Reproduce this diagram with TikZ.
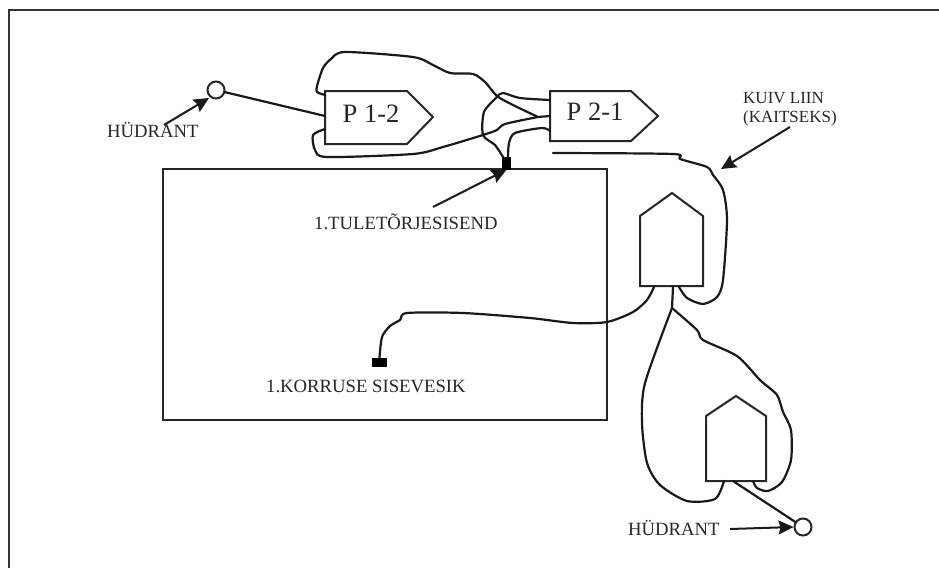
\documentclass[tikz,border=0pt]{standalone}
\usepackage{fontspec}
\setmainfont{Liberation Serif}
\usetikzlibrary{arrows.meta}
\tikzset{
  frameline/.style={line width=2pt,draw=black!80},
  shapeline/.style={line width=2pt,draw=black!85,line join=miter},
  hose/.style={line width=2.2pt,draw=black!90,line cap=round,line join=round},
  hoseplot/.style={hose,smooth,tension=0.45},
  pointer/.style={line width=2pt,draw=black!90,-{Stealth[length=15pt,width=14pt,inset=2pt]}},
  hydrant/.style={circle,draw=black!85,line width=2pt,fill=white,inner sep=0pt,minimum size=17pt},
  coupling/.style={fill=black,draw=none,inner sep=0pt},
  lab/.style={anchor=base west,inner sep=0pt,font=\fontsize{18.7}{18.7}\selectfont,text=black!85},
  pumplab/.style={inner sep=0pt,font=\fontsize{26.5}{26.5}\selectfont,text=black!85}
}
\begin{document}
\begin{tikzpicture}[x=1pt,y=-1pt]
\useasboundingbox (0,0) rectangle (939,568);
\fill[white] (0,0) rectangle (939,568);
% frame: top and left only
\coordinate (fb) at (8.5,568); \coordinate (fc) at (8.5,9.5); \coordinate (fr) at (939,9.5);
\draw[frameline] (fb) -- (fc) -- (fr);
% building
\node[draw=black!85,line width=2pt,inner sep=0pt,minimum width=444pt,minimum height=251pt,anchor=north west] (bld) at (162,168) {};
% pumps
\draw[shapeline] (325,91) coordinate (p1a) -- (407,91) -- (433,117) -- (407,144) -- (325,144) coordinate (p1b) -- cycle;
\node[pumplab] (p12) at (371,114) {P 1-2};
\draw[shapeline] (550,91) coordinate (p2a) -- (631,91) -- (658,116) -- (631,141) -- (550,141) coordinate (p2b) -- cycle;
\node[pumplab] (p21) at (595,112) {P 2-1};
% trucks
\draw[shapeline] (640,286) coordinate (t1a) -- (640,216) -- (672,193) -- (703,216) -- (703,286) coordinate (t1b) -- cycle;
\draw[shapeline] (706,481) coordinate (t2a) -- (706,416) -- (736,396) -- (766,416) -- (766,481) coordinate (t2b) -- cycle;
% hydrants
\node[hydrant] (hy1) at (216,90) {};
\node[hydrant] (hy2) at (803,527) {};
% couplings
\node[coupling,minimum width=9pt,minimum height=13pt] (c1) at (506.5,163) {};
\node[coupling,minimum width=15pt,minimum height=9pt] (c2) at (379.5,362.5) {};
% named hose ends
\coordinate (p1l1) at (325,116);
\coordinate (p1u) at (325,95);
\coordinate (p1d) at (325,129);
\coordinate (p2u) at (550,100);
\coordinate (p2m) at (550,116);
\coordinate (p2d) at (550,131);
\coordinate (j1) at (538,117);
\coordinate (dry) at (553,153);
\coordinate (t1l) at (654,287);
\coordinate (t1m) at (673,287);
\coordinate (t1r) at (679,287);
\coordinate (t2l) at (724,481);
\coordinate (t2m) at (733,481);
\coordinate (t2r) at (753,481);
\coordinate (trk) at (672,308);
% straight suction lines
\draw[hose] (hy1) -- (p1l1);
\draw[hose] (t2m) -- (hy2);
\draw[hose] (j1) -- (p2m);
\draw[hose] (t1m) -- (trk);
% hoses
\draw[hoseplot] plot coordinates {(p1u) (317,92) (317,86) (323,68) (331,59) (345,52) (413,57) (433,65) (450,73) (473,74) (485,82) (497,96) (513,105) (j1)};
\draw[hoseplot] plot coordinates {(p2u) (520,98) (503,93) (497,97) (484,112) (483,135) (495,145) (503,157)};
\draw[hoseplot] plot coordinates {(j1) (505,124) (497,130) (483,135) (443,147) (413,154) (327,157) (315,150) (313,135) (p1d)};
\draw[hoseplot] plot coordinates {(p2d) (542,128) (515,133) (509,143) (508,157)};
\draw[hoseplot] plot coordinates {(dry) (673,154) (680,159) (707,167) (713,175) (723,190) (727,220) (723,280) (717,297) (703,304) (687,298) (t1r)};
\draw[hoseplot] plot coordinates {(t1l) (647,300) (633,312) (607,322) (573,323) (530,318) (463,313) (407,313) (400,320) (390,326) (382,337) (c2.north)};
\draw[hoseplot] plot coordinates {(trk) (645,383) (642,423) (647,463) (660,485) (687,501) (715,499) (t2l)};
\draw[hoseplot] plot coordinates {(trk) (697,330) (703,340) (737,356) (760,380) (777,395) (783,412) (791,430) (791,460) (782,482) (768,491) (757,488) (t2r)};
% labels
\node[lab] (l1) at (107,137) {HÜDRANT};
\node[lab] (l2) at (314,229) {1.TULETÕRJESISEND};
\node[lab] (l3) at (266,392) {1.KORRUSE SISEVESIK};
\node[lab] (l4) at (628,535) {HÜDRANT};
\node[lab,font=\fontsize{17}{17}\selectfont] (l5) at (743,103) {KUIV LIIN};
\node[lab,font=\fontsize{17}{17}\selectfont] (l6) at (743,122) {(KAITSEKS)};
% pointers
\coordinate (a1s) at (164,125); \coordinate (a1e) at (209,98);
\coordinate (a2s) at (433,207); \coordinate (a3s) at (790,127); \coordinate (a3e) at (721,169);
\coordinate (a4s) at (730,529);
\draw[pointer] (a1s) -- (a1e);
\draw[pointer] (a2s) -- (c1.south);
\draw[pointer] (a3s) -- (a3e);
\draw[pointer] (a4s) -- (hy2.west);
\end{tikzpicture}
\end{document}
